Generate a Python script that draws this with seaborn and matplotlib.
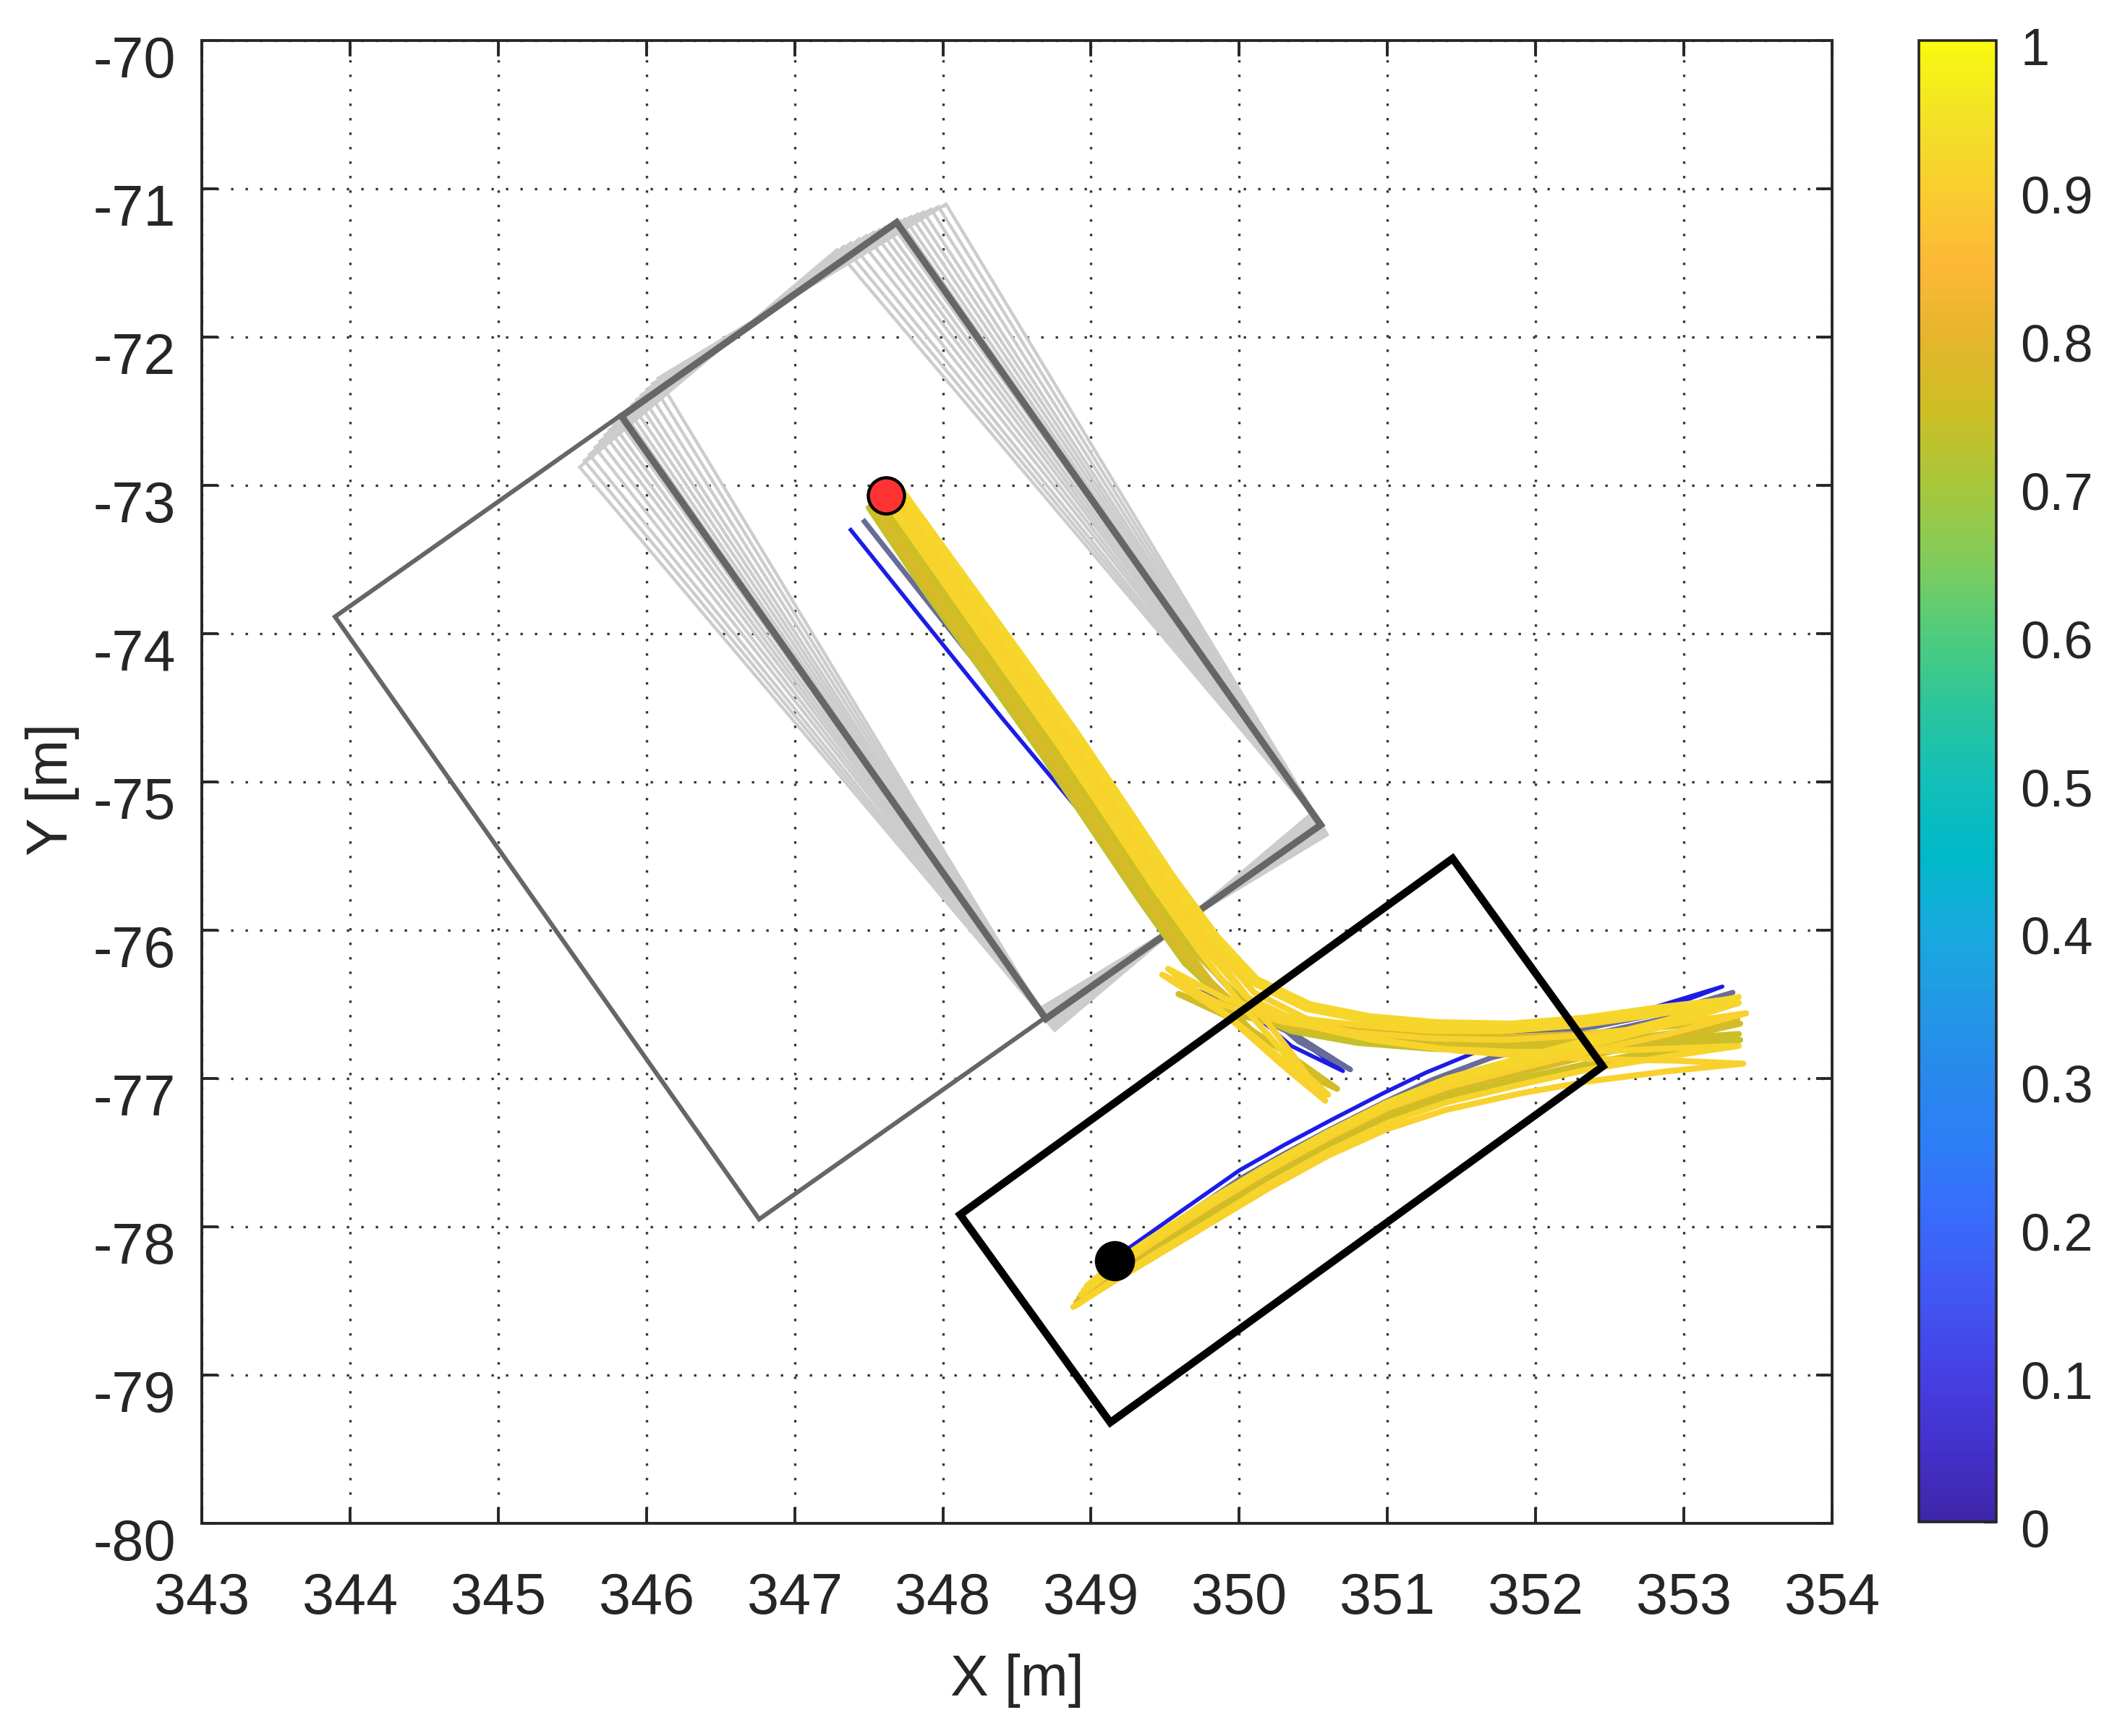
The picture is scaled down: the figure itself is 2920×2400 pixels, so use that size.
import numpy as np
import pandas as pd
import seaborn as sns
import matplotlib
matplotlib.use('Agg')
import matplotlib.pyplot as plt
from matplotlib.patches import Rectangle
from matplotlib.colors import LinearSegmentedColormap, Normalize
from matplotlib.cm import ScalarMappable
import matplotlib.transforms as mtransforms

# colours sampled from the colour bar, 0 -> 1
bar_colors = ['#3e26a8', '#4431cc', '#4541e3', '#4256f1', '#3a6afb', '#2e7df7',
              '#2888ec', '#2299e4', '#17aade', '#00b9c9', '#13bfb8', '#2bc59c',
              '#4fcc7c', '#82cc5a', '#a7c63b', '#cdbf26', '#e5b52c', '#fdb838',
              '#f9cd2f', '#f2e226', '#f8fa10']

# vehicle footprint (dark grey) and the neighbouring slot outline
veh_anchor = (350.55, -75.29)
veh_len, veh_wid, veh_heading = 4.97, 2.27, 125.16
slot_anchor = (348.69, -76.59)
slot_wid = 2.36
rot_center = (349.62, -75.94)
# rotation (deg) of the light grey footprint samples
sample_angles = [-4.0, -3.4, -2.8, -2.2, -1.7, -1.2, -0.7, -0.3, 0.4, 0.9,
                 1.4, 1.9, 2.5, 3.1, 3.8, 4.4, 5.0]

# target box (black)
goal_anchor = (349.13, -79.32)
goal_len, goal_wid, goal_heading = 4.10, 1.73, 35.86

start_pt = (347.615, -73.07)
end_pt = (349.16, -78.23)

# reference paths
blue_path = [(347.37, -73.29), (347.90, -73.95), (348.40, -74.57), (348.90, -75.17),
             (349.30, -75.65), (349.65, -76.08), (350.00, -76.48), (350.35, -76.78),
             (350.70, -76.95), (350.35, -76.70), (349.95, -76.50), (349.54, -76.34),
             (349.90, -76.50), (350.30, -76.62), (350.67, -76.64), (351.04, -76.66),
             (351.60, -76.68), (352.00, -76.66), (352.35, -76.62), (352.80, -76.52),
             (353.26, -76.38), (352.80, -76.55), (352.30, -76.67), (351.60, -76.82),
             (351.26, -76.96), (350.97, -77.10), (350.62, -77.28), (350.30, -77.45),
             (350.00, -77.62), (349.60, -77.90), (349.26, -78.14), (349.15, -78.22)]
grey_path = [(347.46, -73.23), (347.95, -73.85), (348.45, -74.48), (348.95, -75.10),
             (349.35, -75.60), (349.70, -76.05), (350.05, -76.45), (350.40, -76.75),
             (350.75, -76.94), (350.40, -76.72), (350.00, -76.52), (349.58, -76.36),
             (349.95, -76.54), (350.35, -76.66), (350.75, -76.70), (351.20, -76.72),
             (351.60, -76.73), (352.00, -76.70), (352.40, -76.65), (352.85, -76.56),
             (353.33, -76.42), (352.85, -76.60), (352.30, -76.72), (351.70, -76.86),
             (351.30, -77.01), (351.00, -77.15), (350.62, -77.34), (350.30, -77.51),
             (350.00, -77.68), (349.60, -77.95), (349.30, -78.15), (349.18, -78.23)]

# sampled paths, coloured by score
path_scores = [0.915, 0.76, 0.91, 0.92, 0.75, 0.915, 0.91, 0.77, 0.74, 0.92]
paths = [
    [(347.60, -73.08), (347.98, -73.62), (348.38, -74.19), (348.78, -74.75), (349.13, -75.27),
     (349.43, -75.72), (349.73, -76.14), (350.03, -76.52), (350.33, -76.86), (350.60, -77.11),
     (350.30, -76.88), (349.95, -76.60), (349.52, -76.26),
     (349.90, -76.46), (350.30, -76.58), (350.80, -76.64), (351.30, -76.68), (351.80, -76.68),
     (352.30, -76.64), (352.80, -76.57), (353.37, -76.49),
     (352.90, -76.64), (352.35, -76.78), (351.90, -76.89), (351.40, -77.03), (351.00, -77.19),
     (350.60, -77.39), (350.20, -77.61), (349.80, -77.85), (349.40, -78.10), (349.15, -78.27),
     (348.95, -78.43)],
    [(347.55, -73.12), (347.92, -73.66), (348.32, -74.22), (348.72, -74.78), (349.07, -75.30),
     (349.38, -75.76), (349.68, -76.18), (349.98, -76.57), (350.30, -76.90), (350.66, -77.07),
     (350.35, -76.85), (350.00, -76.62), (349.59, -76.43),
     (349.95, -76.56), (350.35, -76.66), (350.80, -76.72), (351.30, -76.76), (351.80, -76.77),
     (352.30, -76.75), (352.80, -76.71), (353.38, -76.63),
     (352.90, -76.74), (352.35, -76.85), (351.90, -76.96), (351.40, -77.08), (351.00, -77.22),
     (350.60, -77.41), (350.20, -77.63), (349.80, -77.88), (349.40, -78.14), (349.15, -78.31),
     (348.92, -78.49)],
    [(347.66, -73.06), (348.03, -73.58), (348.43, -74.15), (348.83, -74.71), (349.18, -75.23),
     (349.48, -75.68), (349.78, -76.10), (350.08, -76.48), (350.36, -76.84), (350.58, -77.15),
     (350.28, -76.90), (349.92, -76.58), (349.48, -76.30),
     (349.88, -76.50), (350.30, -76.62), (350.80, -76.69), (351.30, -76.73), (351.80, -76.74),
     (352.30, -76.71), (352.80, -76.65), (353.42, -76.56),
     (352.90, -76.70), (352.35, -76.82), (351.90, -76.93), (351.40, -77.06), (351.00, -77.20),
     (350.60, -77.40), (350.20, -77.62), (349.80, -77.86), (349.40, -78.12), (349.15, -78.29),
     (348.93, -78.46)],
    [(347.70, -73.05), (348.07, -73.56), (348.47, -74.12), (348.87, -74.68), (349.22, -75.20),
     (349.52, -75.65), (349.82, -76.06), (350.10, -76.36), (350.45, -76.53), (350.85, -76.61),
     (351.30, -76.65), (351.80, -76.66), (352.30, -76.62), (352.80, -76.56), (353.37, -76.45),
     (352.90, -76.63), (352.35, -76.77), (351.90, -76.88), (351.40, -77.02), (351.00, -77.17),
     (350.60, -77.37), (350.20, -77.59), (349.80, -77.83), (349.40, -78.08), (349.15, -78.25),
     (348.97, -78.41)],
    [(347.58, -73.10), (347.95, -73.64), (348.35, -74.20), (348.75, -74.76), (349.10, -75.28),
     (349.41, -75.74), (349.71, -76.16), (350.00, -76.45), (350.40, -76.62), (350.85, -76.71),
     (351.30, -76.76), (351.80, -76.78), (352.30, -76.77), (352.80, -76.74), (353.37, -76.70),
     (352.90, -76.80), (352.35, -76.90), (351.90, -77.00), (351.40, -77.12), (351.00, -77.26),
     (350.60, -77.45), (350.20, -77.67), (349.80, -77.92), (349.40, -78.17), (349.15, -78.33),
     (348.90, -78.51)],
    [(347.63, -73.08), (348.00, -73.60), (348.40, -74.17), (348.80, -74.73), (349.15, -75.25),
     (349.46, -75.70), (349.76, -76.12), (350.05, -76.45), (350.45, -76.64), (350.90, -76.74),
     (351.35, -76.80), (351.85, -76.82), (352.35, -76.82), (352.85, -76.80), (353.37, -76.78),
     (352.90, -76.85), (352.35, -76.94), (351.90, -77.04), (351.40, -77.16), (351.00, -77.30),
     (350.60, -77.49), (350.20, -77.71), (349.80, -77.96), (349.40, -78.20), (349.15, -78.36),
     (348.90, -78.53)],
    [(347.68, -73.06), (348.05, -73.57), (348.45, -74.13), (348.85, -74.70), (349.20, -75.22),
     (349.50, -75.67), (349.80, -76.08), (350.10, -76.42), (350.50, -76.62), (350.95, -76.74),
     (351.45, -76.81), (351.95, -76.85), (352.45, -76.87), (352.95, -76.88), (353.40, -76.90),
     (352.90, -76.95), (352.35, -77.02), (351.90, -77.10), (351.40, -77.21), (351.00, -77.34),
     (350.60, -77.52), (350.20, -77.74), (349.80, -77.98), (349.40, -78.22), (349.15, -78.37),
     (348.88, -78.54)],
    [(347.52, -73.13), (347.89, -73.68), (348.29, -74.24), (348.69, -74.80), (349.04, -75.32),
     (349.35, -75.78), (349.65, -76.20), (349.95, -76.48), (350.35, -76.62), (350.80, -76.68),
     (351.30, -76.71), (351.80, -76.72), (352.30, -76.70), (352.80, -76.66), (353.36, -76.60),
     (352.90, -76.72), (352.35, -76.84), (351.90, -76.95), (351.40, -77.08), (351.00, -77.22),
     (350.60, -77.42), (350.20, -77.64), (349.80, -77.88), (349.40, -78.14), (349.15, -78.31),
     (348.92, -78.48)],
    [(347.50, -73.15), (347.87, -73.70), (348.27, -74.26), (348.67, -74.82), (349.02, -75.34),
     (349.33, -75.80), (349.63, -76.22), (349.95, -76.52), (350.35, -76.68), (350.80, -76.76),
     (351.30, -76.80), (351.80, -76.81), (352.30, -76.80), (352.80, -76.77), (353.38, -76.74),
     (352.90, -76.83), (352.35, -76.92), (351.90, -77.02), (351.40, -77.14), (351.00, -77.28),
     (350.60, -77.47), (350.20, -77.69), (349.80, -77.94), (349.40, -78.18), (349.15, -78.34),
     (348.91, -78.52)],
    [(347.73, -73.04), (348.10, -73.55), (348.50, -74.10), (348.90, -74.66), (349.25, -75.18),
     (349.55, -75.63), (349.85, -76.04), (350.12, -76.33), (350.48, -76.50), (350.88, -76.58),
     (351.33, -76.62), (351.83, -76.63), (352.33, -76.59), (352.83, -76.52), (353.35, -76.46),
     (352.90, -76.60), (352.35, -76.74), (351.90, -76.86), (351.40, -77.00), (351.00, -77.16),
     (350.60, -77.36), (350.20, -77.58), (349.80, -77.82), (349.40, -78.08), (349.15, -78.25),
     (348.97, -78.40)],
]

x_ticks = np.arange(343, 355, 1)
y_ticks = np.arange(-80, -69, 1)
cbar_ticks = np.arange(0, 1.01, 0.1)

sns.set_style('ticks')
plt.rcParams['font.family'] = ['Liberation Sans', 'DejaVu Sans']
plt.rcParams['axes.unicode_minus'] = False

cmap = LinearSegmentedColormap.from_list('bar', bar_colors)
norm = Normalize(0, 1)

fig = plt.figure(figsize=(14.6, 12), dpi=200)
ax = fig.add_axes([0.09555, 0.1225, 0.77192, 0.85417])
cax = fig.add_axes([0.90856, 0.12333, 0.03664, 0.85333])

ax.set_xlim(343, 354)
ax.set_ylim(-80, -70)
ax.set_xticks(x_ticks)
ax.set_yticks(y_ticks)
ax.set_axisbelow(True)
ax.grid(True, linestyle=(0, (1, 5)), color='#333333', lw=1.2)
ax.tick_params(direction='in', top=True, right=True, length=8, width=1.4,
               color='#262626', labelsize=28.5, labelcolor='#262626')
ax.tick_params(axis='x', pad=24)
ax.tick_params(axis='y', pad=13)
for s in ax.spines.values():
    s.set_linewidth(1.4)
    s.set_color('#262626')

# light grey footprint samples
for a in sample_angles:
    tr = mtransforms.Affine2D().rotate_deg_around(rot_center[0], rot_center[1], a) + ax.transData
    r = Rectangle(veh_anchor, veh_len, veh_wid, angle=veh_heading, fill=False,
                  ec='#cccccc', lw=1.6, transform=tr)
    ax.add_patch(r)

ax.add_patch(Rectangle(slot_anchor, veh_len, slot_wid, angle=veh_heading, fill=False,
                       ec='#666666', lw=2.2))
ax.add_patch(Rectangle(veh_anchor, veh_len, veh_wid, angle=veh_heading, fill=False,
                       ec='#666666', lw=3.4))

# paths
bx, by = zip(*blue_path)
ax.plot(bx, by, color='#1c1ce6', lw=2.0, solid_capstyle='butt')
gx, gy = zip(*grey_path)
ax.plot(gx, gy, color='#686c98', lw=2.6, solid_capstyle='butt')

rows = []
for i, (p, v) in enumerate(zip(paths, path_scores)):
    for k, (x, y) in enumerate(p):
        rows.append({'traj': i, 'k': k, 'x': x, 'y': y, 'score': v})
df = pd.DataFrame(rows)
sns.lineplot(data=df, x='x', y='y', units='traj', estimator=None, sort=False,
             hue='score', palette=cmap, hue_norm=norm, lw=3.0, legend=False, ax=ax)

ax.add_patch(Rectangle(goal_anchor, goal_len, goal_wid, angle=goal_heading, fill=False,
                       ec='black', lw=3.8, joinstyle='miter', zorder=4))

ax.plot(*start_pt, 'o', ms=18, mfc='#ff3333', mec='black', mew=1.6, zorder=5)
ax.plot(*end_pt, 'o', ms=19, color='black', zorder=5)

ax.set_xlabel('X [m]', fontsize=28.5, color='#262626', va='center')
ax.set_ylabel('Y [m]', fontsize=28.5, color='#262626', va='center')
ax.xaxis.set_label_coords(0.5, -0.1063)
ax.yaxis.set_label_coords(-0.0914, 0.495)

# MATLAB puts the y labels a little under the tick
off = mtransforms.ScaledTranslation(0, -22 / 200, fig.dpi_scale_trans)
for lab in ax.get_yticklabels():
    lab.set_transform(lab.get_transform() + off)

sm = ScalarMappable(norm=norm, cmap=cmap)
cb = fig.colorbar(sm, cax=cax, ticks=cbar_ticks, format='%g')
cb.outline.set_linewidth(1.3)
cb.outline.set_edgecolor('#262626')
cax.tick_params(direction='in', length=6.5, width=1.2, color='#262626',
                labelsize=26, labelcolor='#262626', pad=12)
off2 = mtransforms.ScaledTranslation(0, -8 / 200, fig.dpi_scale_trans)
for lab in cax.get_yticklabels():
    lab.set_transform(lab.get_transform() + off2)

fig.savefig('out.png', dpi=200)
